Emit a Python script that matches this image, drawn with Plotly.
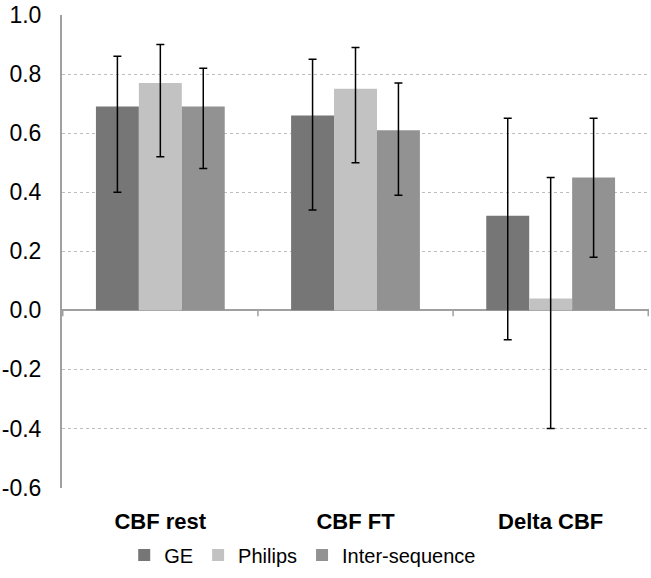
import plotly.graph_objects as go

# data
categories = ['CBF rest', 'CBF FT', 'Delta CBF']
ge = [0.69, 0.66, 0.32]
ge_hi = [0.86, 0.85, 0.65]
ge_lo = [0.40, 0.34, -0.10]
philips = [0.77, 0.75, 0.04]
philips_hi = [0.90, 0.89, 0.45]
philips_lo = [0.52, 0.50, -0.40]
inter = [0.69, 0.61, 0.45]
inter_hi = [0.82, 0.77, 0.65]
inter_lo = [0.48, 0.39, 0.18]

y_ticks = [-0.6, -0.4, -0.2, 0.0, 0.2, 0.4, 0.6, 0.8, 1.0]
y_ticktext = ['-0.6', '-0.4', '-0.2', '0.0', '0.2', '0.4', '0.6', '0.8', '1.0']

series = [
    ('GE', ge, ge_hi, ge_lo, '#767676'),
    ('Philips', philips, philips_hi, philips_lo, '#c2c2c2'),
    ('Inter-sequence', inter, inter_hi, inter_lo, '#929292'),
]

fig = go.Figure()
for name, vals, hi, lo, col in series:
    fig.add_trace(go.Bar(
        x=categories, y=vals, name=name, marker_color=col, marker_line_width=0,
        error_y=dict(type='data', symmetric=False,
                     array=[h - v for h, v in zip(hi, vals)],
                     arrayminus=[v - l for l, v in zip(lo, vals)],
                     color='black', thickness=1.5, width=4),
    ))

# small tick marks on the zero line between the categories
for i in range(len(categories) + 1):
    fig.add_shape(type='line', xref='x', yref='y', x0=i - 0.5, x1=i - 0.5, y0=0, y1=-0.02,
                  line=dict(color='#a0a0a0', width=1.5))

fig.update_layout(
    width=651, height=578,
    margin=dict(l=62, r=2, t=11, b=90),
    paper_bgcolor='white', plot_bgcolor='white',
    barmode='group', bargap=0.34, bargroupgap=0,
    font=dict(family='Liberation Sans, Arial, sans-serif', color='black', size=21),
    showlegend=True,
    legend=dict(orientation='h', xref='container', x=0.465, xanchor='center',
                yref='container', y=0.006, yanchor='bottom',
                font=dict(size=20), itemwidth=30, tracegroupgap=0),
)
fig.update_xaxes(showline=False, showgrid=False, ticks='', ticklabelstandoff=18,
                 tickfont=dict(size=22, weight='bold'))
fig.update_yaxes(range=[-0.6, 1.0], tickvals=y_ticks, ticktext=y_ticktext,
                 ticklabeloverflow='allow',
                 showline=True, linecolor='#a0a0a0', linewidth=2,
                 showgrid=True, gridcolor='#bdbdbd', griddash='dot', gridwidth=1,
                 zeroline=True, zerolinecolor='#a0a0a0', zerolinewidth=2,
                 ticks='', ticklabelstandoff=14, tickfont=dict(size=23))

# drop the default 8px page margin so the figure fills the window
fig.write_html("out.html", config={'displayModeBar': False},
               post_script="document.body.style.margin='0';")
